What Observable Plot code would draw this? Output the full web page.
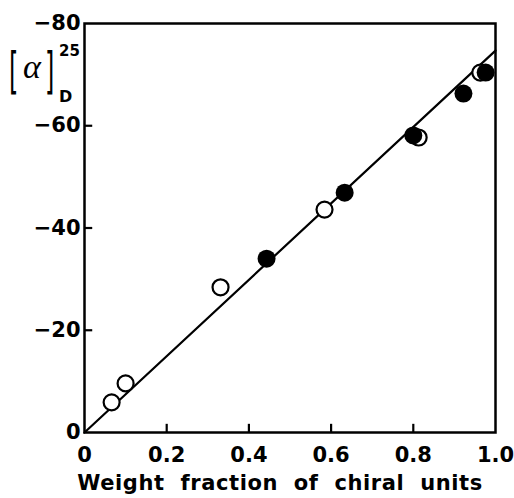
<!DOCTYPE html>
<html><head><meta charset="utf-8">
<script src="https://cdn.jsdelivr.net/npm/d3@7"></script>
<script src="https://cdn.jsdelivr.net/npm/@observablehq/plot@0.6"></script>
<style>body{margin:0;background:#fff;} #chart{width:514px;height:498px;}</style>
</head><body><div id="chart"></div>
<script>
const openX = [0.066, 0.10, 0.331, 0.584, 0.813, 0.963];
const openY = [-5.9, -9.6, -28.4, -43.6, -57.7, -70.4];
const filledX = [0.443, 0.633, 0.80, 0.922, 0.976];
const filledY = [-34.0, -46.9, -58.1, -66.3, -70.4];
const fitX = [0, 1.0];
const fitY = [0, -74.7];
const xTicks = [0, 0.2, 0.4, 0.6, 0.8, 1.0];
const xTickMarks = [0.2, 0.4, 0.6, 0.8];
const yTicks = [0, -20, -40, -60, -80];
const yTickMarks = [-20, -40, -60];
const xLabel = "Weight  fraction  of  chiral  units";

const openData = openX.map((x, i) => ({x, y: openY[i]}));
const filledData = filledX.map((x, i) => ({x, y: filledY[i]}));
const fitData = fitX.map((x, i) => ({x, y: fitY[i]}));

const fmtX = d => d === 0 ? "0" : d.toFixed(1);
const fmtY = d => d === 0 ? "0" : "\u2212" + Math.abs(d);

const chart = Plot.plot({
  width: 514,
  height: 498,
  marginLeft: 84,
  marginRight: 19,
  marginTop: 23,
  marginBottom: 66,
  style: {fontFamily: "'DejaVu Sans', sans-serif", fontWeight: "bold", fontSize: "21px", color: "#000", background: "#fff"},
  x: {domain: [0, 1.0]},
  y: {domain: [0, -80]},
  marks: [
    Plot.axisX({ticks: xTicks, tickFormat: fmtX, tickSize: 0, tickPadding: 15, fontSize: 21, fontWeight: "bold", label: null}),
    Plot.axisY({ticks: yTicks, tickFormat: fmtY, tickSize: 0, tickPadding: 4, fontSize: 21, fontWeight: "bold", label: null}),
    Plot.frame({stroke: "#000", strokeWidth: 2.5}),
    Plot.ruleX(xTickMarks, {x: d => d, y1: () => 0, y2: () => -1.6, stroke: "#000", strokeWidth: 2.2}),
    Plot.ruleY(yTickMarks, {y: d => d, x1: () => 0, x2: () => 0.02, stroke: "#000", strokeWidth: 2.2}),
    Plot.line(fitData, {x: "x", y: "y", stroke: "#000", strokeWidth: 2.2}),
    Plot.dot(openData, {x: "x", y: "y", r: 8, fill: "#fff", stroke: "#000", strokeWidth: 2.2}),
    Plot.dot(filledData, {x: "x", y: "y", r: 9, fill: "#000", stroke: "none"})
  ]
});
document.getElementById("chart").appendChild(chart);

const svg = d3.select(chart);
// x-axis title
svg.append("text")
  .attr("x", 280).attr("y", 490)
  .attr("text-anchor", "middle")
  .style("font-family", "'DejaVu Sans', sans-serif")
  .style("font-weight", "bold")
  .style("font-size", "21px")
  .style("letter-spacing", "0.6px")
  .style("white-space", "pre")
  .text(xLabel);

// y-axis title: [α] with superscript 25 and subscript D
const g = svg.append("g").attr("fill", "#000").attr("text-anchor", "start");
g.append("text").attr("transform", "translate(9,88) scale(1,2.1)")
  .style("font-family", "'DejaVu Sans', sans-serif").style("font-weight", "normal").style("font-size", "24px").text("[");
g.append("text").attr("transform", "translate(45,88) scale(1,2.1)")
  .style("font-family", "'DejaVu Sans', sans-serif").style("font-weight", "normal").style("font-size", "24px").text("]");
g.append("text").attr("x", 32).attr("y", 78).attr("text-anchor", "middle")
  .style("font-family", "'Liberation Serif', serif").style("font-style", "italic").style("font-weight", "normal").style("font-size", "34px").text("α");
g.append("text").attr("x", 59).attr("y", 56)
  .style("font-family", "'DejaVu Sans', sans-serif").style("font-weight", "bold").style("font-size", "15px").text("25");
g.append("text").attr("x", 59).attr("y", 102)
  .style("font-family", "'DejaVu Sans', sans-serif").style("font-weight", "bold").style("font-size", "16px").text("D");
</script>
</body></html>
